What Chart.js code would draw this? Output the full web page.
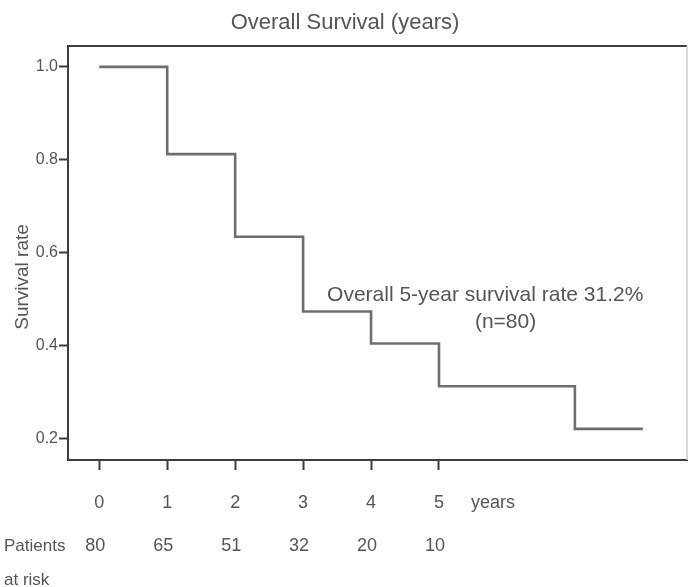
<!DOCTYPE html>
<html>
<head>
<meta charset="utf-8">
<title>Overall Survival (years)</title>
<script src="https://cdn.jsdelivr.net/npm/chart.js@4.4.1/dist/chart.umd.min.js"></script>
<style>
  html, body { margin: 0; padding: 0; background: #ffffff; }
  #wrap { width: 690px; height: 587px; }
</style>
</head>
<body>
<div id="wrap"><canvas id="km" width="690" height="587"></canvas></div>
<script>
// Kaplan-Meier estimate: survival proportion from each event time onward
const eventYears = [0, 1, 2, 3, 4, 5, 7, 8];
const survivalRate = [1.0, 0.812, 0.634, 0.473, 0.404, 0.312, 0.22, 0.22];

// Axis ticks
const yearTicks = [0, 1, 2, 3, 4, 5];
const rateTicks = [0.2, 0.4, 0.6, 0.8, 1.0];

// Number at risk at the start of each year
const atRiskYears = [0, 1, 2, 3, 4, 5];
const patientsAtRisk = [80, 65, 51, 32, 20, 10];

// Text
const chartTitle = 'Overall Survival (years)';
const yTitle = 'Survival rate';
const xUnit = 'years';
const riskLabel = ['Patients', 'at risk'];
const note = ['Overall 5-year survival rate 31.2%', '(n=80)'];

const FONT = '"Liberation Sans", Arial, Helvetica, sans-serif';
const TEXT = '#555555';
const AXIS = '#3c3c3c';

const points = eventYears.map((x, i) => ({ x, y: survivalRate[i] }));

// Frame, titles, unit label, at-risk table and annotation
const decorations = {
  id: 'decorations',
  afterDraw(chart) {
    const { ctx, chartArea: a, scales: { x, y } } = chart;
    ctx.save();

    // top and right edges of the plot box
    ctx.lineWidth = 2;
    ctx.strokeStyle = AXIS;
    ctx.beginPath();
    ctx.moveTo(a.left, a.top);
    ctx.lineTo(a.right, a.top);
    ctx.stroke();
    ctx.strokeStyle = '#cfcfcf';
    ctx.lineWidth = 1.5;
    ctx.beginPath();
    ctx.moveTo(a.right, a.top);
    ctx.lineTo(a.right, a.bottom);
    ctx.stroke();

    ctx.fillStyle = TEXT;
    ctx.textBaseline = 'middle';

    // chart title
    ctx.font = '22px ' + FONT;
    ctx.textAlign = 'center';
    ctx.fillText(chartTitle, 345, 23);

    // y axis title
    ctx.save();
    ctx.translate(23, 277);
    ctx.rotate(-Math.PI / 2);
    ctx.font = '19px ' + FONT;
    ctx.fillText(yTitle, 0, 0);
    ctx.restore();

    // unit after the year ticks
    ctx.font = '18px ' + FONT;
    ctx.textAlign = 'left';
    ctx.fillText(xUnit, 471, 503);

    // number at risk
    ctx.font = '17px ' + FONT;
    ctx.textAlign = 'left';
    ctx.fillText(riskLabel[0], 4, 546);
    ctx.fillText(riskLabel[1], 4, 580);
    ctx.font = '18px ' + FONT;
    ctx.textAlign = 'center';
    atRiskYears.forEach((yr, i) => {
      ctx.fillText(String(patientsAtRisk[i]), x.getPixelForValue(yr) - 4, 546);
    });

    // annotation
    ctx.font = '21px ' + FONT;
    ctx.textAlign = 'center';
    ctx.fillText(note[0], x.getPixelForValue(5.68), y.getPixelForValue(0.508));
    ctx.fillText(note[1], x.getPixelForValue(5.98), y.getPixelForValue(0.449));

    ctx.restore();
  }
};

new Chart(document.getElementById('km'), {
  type: 'line',
  data: {
    datasets: [{
      data: points,
      stepped: 'before',
      borderColor: '#6e6e6e',
      borderWidth: 2.6,
      pointRadius: 0,
      fill: false
    }]
  },
  options: {
    responsive: false,
    animation: false,
    layout: { padding: { top: 46, right: 3, left: 0, bottom: 0 } },
    plugins: {
      legend: { display: false },
      title: { display: false },
      tooltip: { enabled: false }
    },
    scales: {
      x: {
        type: 'linear',
        min: -0.46,
        max: 8.65,
        afterBuildTicks(s) { s.ticks = yearTicks.map(v => ({ value: v })); },
        afterFit(s) { s.height = 127; },
        grid: { drawOnChartArea: false, drawTicks: true, tickLength: 10, tickWidth: 2, tickColor: AXIS },
        border: { display: true, color: AXIS, width: 2 },
        ticks: {
          autoSkip: false,
          maxRotation: 0,
          padding: 22,
          color: TEXT,
          font: { size: 18, family: FONT },
          callback: v => String(v)
        }
      },
      y: {
        type: 'linear',
        min: 0.153,
        max: 1.045,
        afterBuildTicks(s) { s.ticks = rateTicks.map(v => ({ value: v })); },
        afterFit(s) { s.width = 68; },
        grid: { drawOnChartArea: false, drawTicks: true, tickLength: 9, tickWidth: 2, tickColor: AXIS },
        border: { display: true, color: AXIS, width: 2 },
        ticks: {
          padding: 1,
          color: TEXT,
          font: { size: 16, family: FONT },
          callback: v => Number(v).toFixed(1)
        }
      }
    }
  },
  plugins: [decorations]
});
</script>
</body>
</html>
